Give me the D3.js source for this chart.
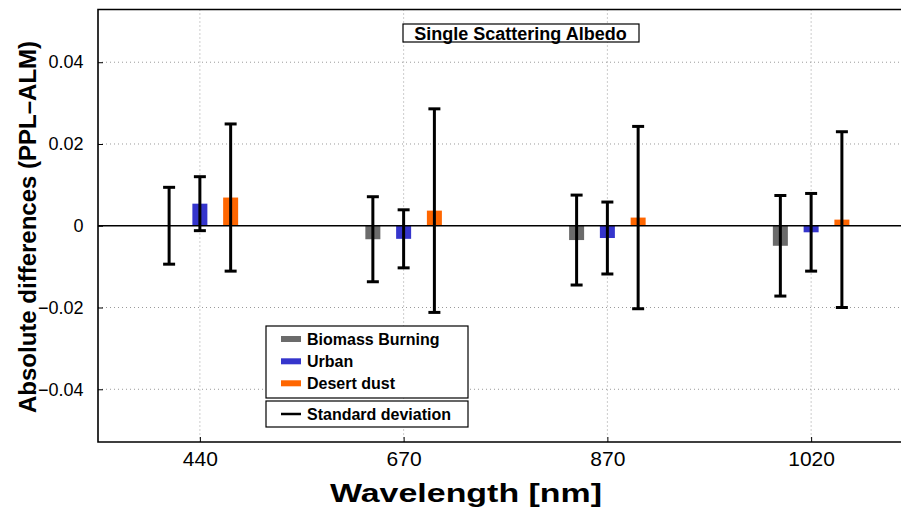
<!DOCTYPE html>
<html>
<head>
<meta charset="utf-8">
<script src="https://cdn.jsdelivr.net/npm/d3@7"></script>
<style>
  html, body { margin: 0; padding: 0; background: #fff; }
  svg { display: block; font-family: "Liberation Sans", Arial, Helvetica, sans-serif; }
</style>
</head>
<body>
<svg id="chart" width="901" height="508"></svg>
<script>
// ---- data ----
const wavelengths = ["440", "670", "870", "1020"];
const seriesNames = ["Biomass Burning", "Urban", "Desert dust"];
const biomassMean = [0.0000, -0.0033, -0.0035, -0.0049];
const biomassStd  = [0.0094, 0.0104, 0.0110, 0.0123];
const urbanMean   = [0.0054, -0.0032, -0.0030, -0.0016];
const urbanStd    = [0.0066, 0.0071, 0.0088, 0.0095];
const dustMean    = [0.0069, 0.0037, 0.0020, 0.0015];
const dustStd     = [0.0180, 0.0249, 0.0223, 0.0215];
const yTicks = [-0.04, -0.02, 0, 0.02, 0.04];
const yTickLabels = ["\u22120.04", "\u22120.02", "0", "0.02", "0.04"];
const titleText = "Single Scattering Albedo";
const xTitle = "Wavelength [nm]";
const yTitle = "Absolute differences (PPL\u2013ALM)";
const legendStd = "Standard deviation";

const colors = ["#6b6b6b", "#3535cc", "#ff6600"];
const means = [biomassMean, urbanMean, dustMean];
const stds = [biomassStd, urbanStd, dustStd];

// ---- layout ----
const pLeft = 98, pTop = 9.5, pBottom = 442, pRight = 913;
const svg = d3.select("#chart");

const x = d3.scaleLinear().domain([0.5, wavelengths.length + 0.5]).range([pLeft, pRight]);
const y = d3.scaleLinear().domain([-0.0529, 0.0529]).range([pBottom, pTop]);
const groupOffset = [-0.151, 0, 0.151];
const barW = 15;

// grid
const grid = svg.append("g");
grid.selectAll("line.h").data(yTicks.filter(d => d !== 0)).enter().append("line")
  .attr("x1", pLeft).attr("x2", pRight)
  .attr("y1", d => y(d)).attr("y2", d => y(d))
  .attr("stroke", "#9a9a9a").attr("stroke-width", 1).attr("stroke-dasharray", "1,3");
grid.selectAll("line.v").data(wavelengths).enter().append("line")
  .attr("x1", (d, i) => x(i + 1)).attr("x2", (d, i) => x(i + 1))
  .attr("y1", pTop).attr("y2", pBottom)
  .attr("stroke", "#9a9a9a").attr("stroke-width", 1).attr("stroke-dasharray", "1,3");

// bars
seriesNames.forEach((name, s) => {
  svg.append("g").selectAll("rect").data(means[s]).enter().append("rect")
    .attr("x", (d, i) => x(i + 1 + groupOffset[s]) - barW / 2)
    .attr("width", barW)
    .attr("y", d => Math.min(y(d), y(0)))
    .attr("height", d => Math.abs(y(d) - y(0)))
    .attr("fill", colors[s]);
});

// zero line
svg.append("line").attr("x1", pLeft).attr("x2", pRight)
  .attr("y1", y(0)).attr("y2", y(0)).attr("stroke", "#000").attr("stroke-width", 1.5);

// error bars
seriesNames.forEach((name, s) => {
  const g = svg.append("g");
  means[s].forEach((m, i) => {
    const cx = x(i + 1 + groupOffset[s]);
    const y1 = y(m + stds[s][i]), y2 = y(m - stds[s][i]);
    g.append("line").attr("x1", cx).attr("x2", cx).attr("y1", y1).attr("y2", y2)
      .attr("stroke", "#000").attr("stroke-width", 3);
    [y1, y2].forEach(yy => g.append("line").attr("x1", cx - 6).attr("x2", cx + 6)
      .attr("y1", yy).attr("y2", yy).attr("stroke", "#000").attr("stroke-width", 3));
  });
});

// axes
const yAxis = d3.axisLeft(y).tickValues(yTicks).tickSizeInner(-5).tickSizeOuter(0).tickPadding(14.5)
  .tickFormat((d, i) => yTickLabels[i]);
const ya = svg.append("g").attr("transform", `translate(${pLeft},0)`).call(yAxis);
ya.select(".domain").remove();
ya.selectAll("text").attr("font-size", 18).attr("fill", "#000")
  .attr("font-family", "'Liberation Sans', Arial, sans-serif");
ya.selectAll(".tick line").attr("stroke", "#000");

const xAxis = d3.axisBottom(x).tickValues(wavelengths.map((d, i) => i + 1)).tickSizeInner(-5).tickSizeOuter(0).tickPadding(9.5)
  .tickFormat((d, i) => wavelengths[i]);
const xa = svg.append("g").attr("transform", `translate(0,${pBottom})`).call(xAxis);
xa.select(".domain").remove();
xa.selectAll("text").attr("font-size", 21).attr("fill", "#000")
  .attr("font-family", "'Liberation Sans', Arial, sans-serif");
xa.selectAll(".tick line").attr("stroke", "#000");

// frame: left, top, bottom
svg.append("path")
  .attr("d", `M${pRight},${pTop}H${pLeft}V${pBottom}H${pRight}`)
  .attr("fill", "none").attr("stroke", "#000").attr("stroke-width", 1.6);

// title box
const tb = svg.append("g");
tb.append("rect").attr("x", 403).attr("y", 24).attr("width", 236).attr("height", 18)
  .attr("fill", "#fff").attr("stroke", "#000").attr("stroke-width", 1.2);
tb.append("text").attr("x", 520.5).attr("y", 39.5).attr("text-anchor", "middle")
  .attr("font-size", 18).attr("font-weight", "bold").text(titleText);

// legend
const lg = svg.append("g");
lg.append("rect").attr("x", 266).attr("y", 326).attr("width", 202).attr("height", 72)
  .attr("fill", "#fff").attr("stroke", "#000").attr("stroke-width", 1.2);
lg.append("rect").attr("x", 266).attr("y", 401).attr("width", 202).attr("height", 26)
  .attr("fill", "#fff").attr("stroke", "#000").attr("stroke-width", 1.2);
const rowY = [339, 361.3, 383.3];
seriesNames.forEach((name, s) => {
  lg.append("rect").attr("x", 281).attr("y", rowY[s] - 3).attr("width", 20).attr("height", 6)
    .attr("fill", colors[s]);
  lg.append("text").attr("x", 307).attr("y", rowY[s] + 5.7).attr("font-size", 16)
    .attr("font-weight", "bold").text(name);
});
lg.append("line").attr("x1", 281).attr("x2", 301).attr("y1", 414).attr("y2", 414)
  .attr("stroke", "#000").attr("stroke-width", 2.5);
lg.append("text").attr("x", 307).attr("y", 420).attr("font-size", 16)
  .attr("font-weight", "bold").text(legendStd);

// axis titles
svg.append("text").attr("x", 466).attr("y", 502).attr("text-anchor", "middle")
  .attr("font-size", 26).attr("font-weight", "bold")
  .attr("textLength", 272).attr("lengthAdjust", "spacingAndGlyphs").text(xTitle);
svg.append("text").attr("transform", "translate(36,227) rotate(-90)").attr("text-anchor", "middle")
  .attr("font-size", 24).attr("font-weight", "bold").text(yTitle);
</script>
</body>
</html>
